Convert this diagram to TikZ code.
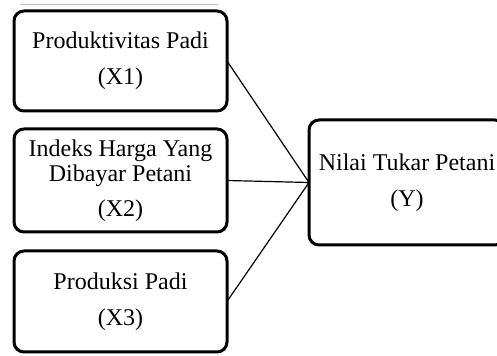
\documentclass[tikz,border=0pt]{standalone}
\usepackage{fontspec}
\setmainfont{Liberation Serif}
\begin{document}
\begin{tikzpicture}[x=0.5pt,y=-0.5pt,
    kotak/.style={rectangle, draw, line width=1.5pt, rounded corners=5pt, outer sep=0pt, inner sep=0pt, align=center, font=\fontsize{12}{12.5}\selectfont}]
    \useasboundingbox (0,0) rectangle (497,356);
    \clip (0,0) rectangle (497,356);
    \draw[gray!50, line width=0.5pt] (20,5) -- (218,5);
    \draw
    (14,11)node[kotak, minimum width=106.5pt, minimum height=50pt, anchor=north west](x1){Produktivitas Padi\\[5.5pt](X1)}
    (14,129)node[kotak, minimum width=106.5pt, minimum height=51.5pt, anchor=north west](x2){Indeks Harga Yang\\Dibayar Petani\\[5pt](X2)}
    (14,251)node[kotak, minimum width=106.5pt, minimum height=50.5pt, anchor=north west](x3){Produksi Padi\\[5.5pt](X3)}
    (309,120)node[kotak, minimum width=98pt, minimum height=62.5pt, anchor=north west](y){Nilai Tukar Petani\\[5.5pt](Y)}
    ;
    \draw[line width=0.6pt] (x1.east) -- (y.west) (x2.east) -- (y.west) (x3.east) -- (y.west);
\end{tikzpicture}
\end{document}
